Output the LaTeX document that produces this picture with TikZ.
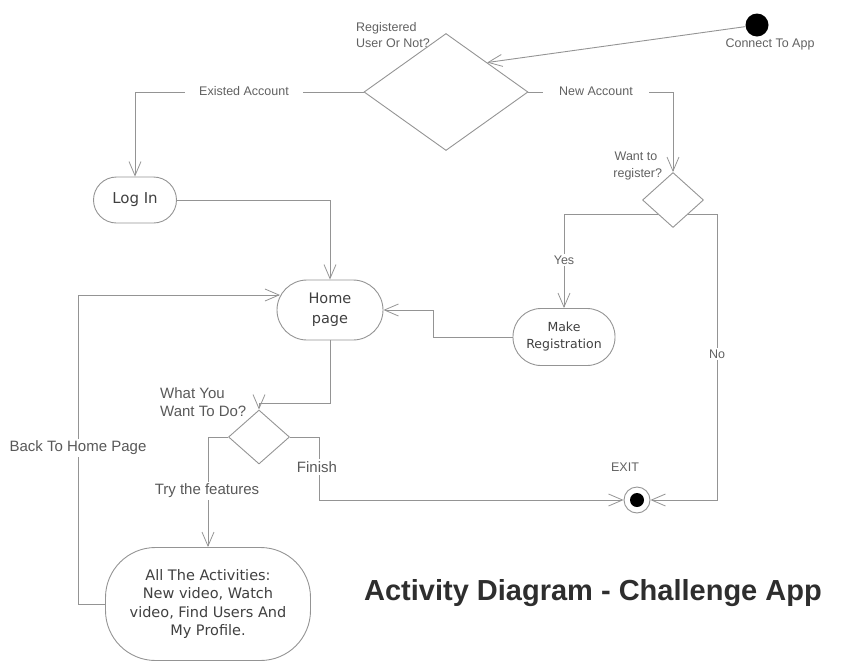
\documentclass[tikz,border=0pt]{standalone}
\usepackage{fontspec}
\setmainfont{Liberation Sans}
\newfontfamily\nodefont{DejaVu Sans}
\usetikzlibrary{shapes.geometric,arrows.meta}
\begin{document}
\begin{tikzpicture}[x=1pt,y=-1pt,
  conn/.style={draw=black!42, line width=0.9pt},
  arr/.style={conn, -{Straight Barb[length=14pt,width=12pt,line width=0.8pt]}},
  lbl/.style={text=black!62, font=\fontsize{12.5}{16}\selectfont, inner sep=1pt},
  blbl/.style={text=black!65, font=\fontsize{15}{18}\selectfont, inner sep=1pt},
  onl/.style={fill=white, inner sep=2pt},
  actbox/.style={draw=black!42, line width=0.9pt, font=\nodefont, text=black!75,
    align=center, inner sep=0pt},
  decision/.style={diamond, draw=black!42, line width=0.9pt, inner sep=0pt}]
\useasboundingbox (0,0) rectangle (847,665);

% nodes
\node[circle, fill=black, minimum size=23pt, inner sep=0pt] (start) at (757,25) {};
\node[lbl] (startlbl) at (770,44) {Connect To App};

\node[decision, minimum width=164pt, minimum height=117pt] (d1) at (446,92) {};
\node[lbl, anchor=west, align=left] (d1lbl) at (355,35) {Registered\\User Or Not?};

\node[decision, minimum width=61pt, minimum height=55pt] (d2) at (673,200) {};
\node[lbl, align=center, font=\fontsize{12.5}{17}\selectfont] (d2lbl) at (636,166) {Want to\\\ register?};

\node[actbox, rounded corners=23pt, minimum width=83pt, minimum height=46pt,
  font=\nodefont\fontsize{15}{18}\selectfont] (login) at (135,200) {Log In};
\node[actbox, rounded corners=30pt, minimum width=106pt, minimum height=60pt,
  font=\nodefont\fontsize{14.5}{20}\selectfont] (home) at (330,310) {Home\\page};
\node[actbox, rounded corners=28pt, minimum width=102pt, minimum height=57pt,
  font=\nodefont\fontsize{12.5}{17}\selectfont] (mreg) at (564,337) {Make\\Registration};

\node[decision, minimum width=61pt, minimum height=54pt] (d3) at (259,437) {};
\node[blbl, anchor=west, align=left] (d3lbl) at (159,402) {What You\\Want To Do?};

\node[actbox, rounded corners=50pt, minimum width=205pt, minimum height=113pt,
  font=\nodefont\fontsize{14.5}{18.5}\selectfont] (acts) at (208,604)
  {All The Activities:\\New video, Watch\\video, Find Users And\\My Profile.};

\node[circle, draw=black!42, line width=0.9pt, minimum size=26pt, inner sep=0pt] (exit) at (637,500) {};
\node[circle, fill=black, minimum size=14pt, inner sep=0pt] (exitdot) at (exit.center) {};
\node[lbl] (exitlbl) at (625,467) {EXIT};

\coordinate (hin) at (280,295);

% connectors
\draw[arr] (start) -- (d1.north east);
\draw[arr] (d1.west) -| (login.north);
\node[lbl, onl, inner xsep=14pt] (ea) at (244,91) {Existed Account};
\draw[arr] (d1.east) -| (d2.north);
\node[lbl, onl, inner xsep=16pt] (na) at (596,91) {New Account};

\draw[arr] (d2.south west) -| (mreg.north);
\node[lbl, onl] (yes) at (564,260) {Yes};
\draw[arr] (d2.south east) -- ++(29,0) |- (exit);
\node[lbl, onl] (no) at (717,354) {No};

\draw[arr] (login.east) -| (home.north);
\draw[arr] (mreg.west) -- (433,337) |- (home.east);
\draw[arr] (home.south) -- ++(0,63) -| (d3.north);

\draw[arr] (d3.west) -| (acts.north);
\node[blbl, onl] (try) at (207,491) {Try the features};
\draw[arr] (d3.east) -- ++(29,0) |- (exit);
\node[blbl, onl] (fin) at (317,467) {Finish};

\draw[arr] (acts.west) -- (78,604) |- (hin);
\node[blbl, onl] (back) at (78,448) {Back To Home Page};

% title
\node[font=\bfseries\fontsize{29}{33}\selectfont, text=black!82] (title) at (593,593)
  {Activity Diagram - Challenge App};
\end{tikzpicture}
\end{document}
